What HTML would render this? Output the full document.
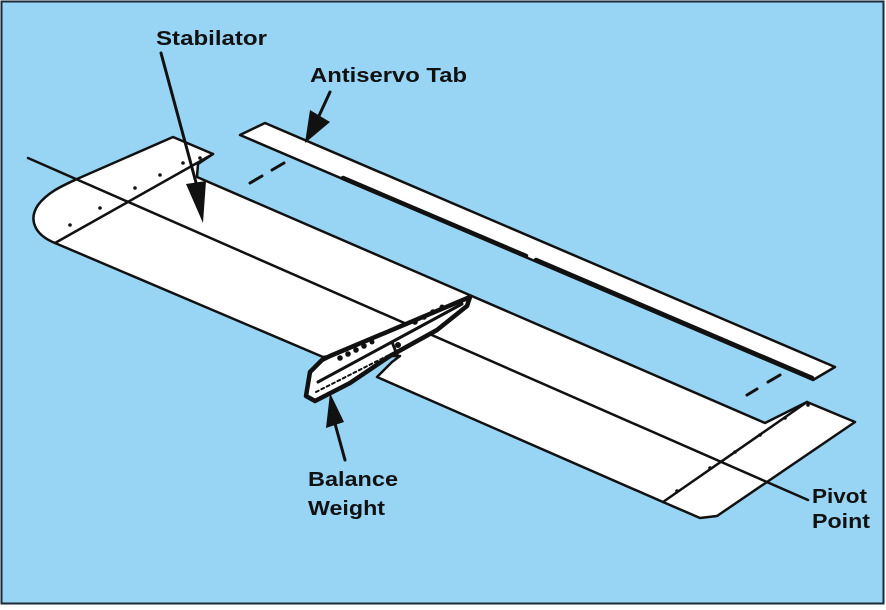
<!DOCTYPE html>
<html><head><meta charset="utf-8"><style>
html,body{margin:0;padding:0;background:#fff;}
svg{display:block;}
text{font-family:"Liberation Sans",Arial,sans-serif;font-weight:bold;font-size:20px;fill:#111;}
</style></head><body>
<svg width="886" height="610" viewBox="0 0 886 610" xmlns="http://www.w3.org/2000/svg">
<rect x="1.5" y="1.5" width="882" height="602" fill="#98d4f3" stroke="#1a2a3a" stroke-width="2"/>
<g stroke="#111" stroke-width="2.5" stroke-linejoin="round" stroke-linecap="round">
<!-- antiservo tab -->
<polygon points="240,135 265,123 835,367 813,380" fill="#fff"/>
<line x1="343" y1="178" x2="526" y2="256" stroke-width="4.5"/>
<line x1="536" y1="260" x2="812" y2="378" stroke-width="4.5"/>
<!-- dashes -->
<line x1="250" y1="183" x2="262" y2="176" stroke-width="3"/>
<line x1="272" y1="170" x2="284" y2="163" stroke-width="3"/>
<line x1="747" y1="395" x2="757" y2="389" stroke-width="3"/>
<line x1="768" y1="382" x2="780" y2="375" stroke-width="3"/>
<!-- stabilator body -->
<path d="M173,137 L213,154 L198,164 L197,177 L765,423 L807,402 L855,422 L717,516 L700,518 L663,502 L377,377 L392,362 L400,356 L330,356 L323,357 L55,243 C35,235 28,220 38,205 C48,192 62,186 77,179 Z" fill="#fff"/>
<path d="M213,154 L55,243" fill="none"/>
<path d="M807,402 L663,502" fill="none"/>
<!-- pivot line -->
<line x1="28" y1="158" x2="808" y2="500"/>
<!-- balance weight -->
<polygon points="310,372 322,360 330,356 470,297 467,306 437,330 390,356 350,383 315,401 306,396" fill="#fff" stroke-width="4.5"/>
<line x1="318" y1="382" x2="462" y2="304" stroke-width="3"/>
<line x1="392" y1="342" x2="398" y2="357" stroke-width="3"/>
<path d="M316,392 L395,352" stroke-width="2" stroke-dasharray="3 3"/>
</g>
<g fill="#111">
<circle cx="340" cy="358" r="2.8"/><circle cx="348" cy="354" r="2.8"/><circle cx="356" cy="350" r="2.8"/><circle cx="364" cy="346" r="2.8"/><circle cx="372" cy="342" r="2.5"/>
<circle cx="415" cy="322" r="2.8"/><circle cx="424" cy="317" r="2.8"/><circle cx="433" cy="312" r="2.8"/><circle cx="442" cy="307" r="2.5"/>
<circle cx="398" cy="345" r="3"/>
<!-- tick marks -->
<circle cx="70" cy="225" r="1.8"/><circle cx="100" cy="208" r="1.8"/><circle cx="135" cy="188" r="1.8"/><circle cx="160" cy="175" r="1.8"/><circle cx="183" cy="163" r="1.8"/><circle cx="200" cy="158" r="1.8"/>
<circle cx="677" cy="491" r="1.8"/><circle cx="710" cy="468" r="1.8"/><circle cx="735" cy="452" r="1.8"/><circle cx="760" cy="435" r="1.8"/><circle cx="785" cy="418" r="1.8"/><circle cx="808" cy="405" r="1.8"/>
<!-- arrowheads -->
<polygon points="203,223 186,184 206,181"/>
<polygon points="305,143 310,110 330,122"/>
<polygon points="330,393 326,428 344,422"/>
</g>
<g stroke="#111" stroke-width="3" stroke-linecap="round">
<line x1="161" y1="53" x2="198" y2="190"/>
<line x1="330" y1="92" x2="318" y2="118"/>
<line x1="345" y1="460" x2="334" y2="420"/>
</g>
<text x="156" y="45" textLength="111" lengthAdjust="spacingAndGlyphs">Stabilator</text>
<text x="310" y="82" textLength="157" lengthAdjust="spacingAndGlyphs">Antiservo Tab</text>
<text x="308" y="486" textLength="90" lengthAdjust="spacingAndGlyphs">Balance</text>
<text x="308" y="515" textLength="77" lengthAdjust="spacingAndGlyphs">Weight</text>
<text x="812" y="503" textLength="55" lengthAdjust="spacingAndGlyphs">Pivot</text>
<text x="812" y="528" textLength="58" lengthAdjust="spacingAndGlyphs">Point</text>
</svg>
</body></html>
